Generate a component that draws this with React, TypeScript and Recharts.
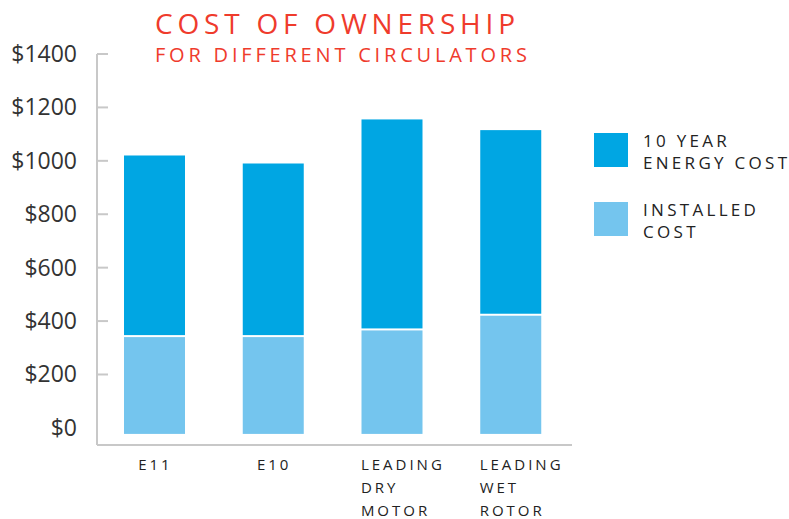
import React from 'react';
import { BarChart, Bar, XAxis, YAxis, Legend } from 'recharts';

const categories = ['E11', 'E10', 'LEADING DRY MOTOR', 'LEADING WET ROTOR'];
const installedCost = [340, 340, 365, 420];
const energyCost = [680, 650, 790, 695];
const yTicks = [0, 200, 400, 600, 800, 1000, 1200, 1400];
const legendOrder = ['energy', 'installed'];

const DARK = '#00a6e3';
const LIGHT = '#74c5ee';
const AXIS = '#c8c8c8';
const RED = '#ef3b2c';
const FONT = '"Open Sans", sans-serif';

const data = categories.map((name, i) => ({
  name,
  installed: installedCost[i],
  energy: energyCost[i],
}));

const YTick = (props: any) => {
  const { x, y, payload } = props;
  return (
    <g>
      {payload.value !== 0 && (
        <line x1={x} x2={x + 11} y1={y} y2={y} stroke={AXIS} strokeWidth={2} />
      )}
      <text x={x - 20} y={y + 8} textAnchor="end" fontFamily={FONT} fontSize={23} fill="#333">
        ${payload.value}
      </text>
    </g>
  );
};

const XTick = (props: any) => {
  const { x, y, payload } = props;
  const lines = String(payload.value).split(' ');
  const multi = lines.length > 1;
  const tx = multi ? x - 31 : x + 1;
  return (
    <text
      x={tx}
      y={y}
      textAnchor={multi ? 'start' : 'middle'}
      fontFamily={FONT}
      fontSize={15}
      letterSpacing={3}
      fill="#222"
    >
      {lines.map((l, i) => (
        <tspan key={l} x={tx} dy={i === 0 ? 25 : 23}>
          {l}
        </tspan>
      ))}
    </text>
  );
};

// installed segment runs a little below the zero line, as in the source graphic
const InstalledShape = (props: any) => {
  const { x, y, width, height, fill } = props;
  return <rect x={x} y={y} width={width} height={height + 6} fill={fill} />;
};

// white gap between the two stacked segments
const EnergyShape = (props: any) => {
  const { x, y, width, height, fill } = props;
  return <rect x={x} y={y} width={width} height={Math.max(height - 2, 0)} fill={fill} />;
};

const LegendContent = (props: any) => {
  const items = [...(props.payload || [])].sort(
    (a: any, b: any) => legendOrder.indexOf(a.dataKey) - legendOrder.indexOf(b.dataKey)
  );
  return (
    <div style={{ fontFamily: FONT }}>
      {items.map((it: any) => (
        <div key={it.value} style={{ position: 'relative', height: 69 }}>
          <div style={{ position: 'absolute', left: 0, top: 0, width: 34, height: 34, background: it.color }} />
          <div
            style={{
              position: 'absolute',
              left: 49,
              top: -3,
              fontSize: 17,
              lineHeight: '21.5px',
              letterSpacing: 3.3,
              color: '#222',
              whiteSpace: 'nowrap',
            }}
          >
            {String(it.value).split('\n').map((l) => (
              <div key={l}>{l}</div>
            ))}
          </div>
        </div>
      ))}
    </div>
  );
};

export default function App() {
  return (
    <div style={{ position: 'absolute', left: 0, top: 0, width: 789, height: 519, background: '#fff', overflow: 'hidden' }}>
      <div
        style={{
          position: 'absolute',
          left: 155,
          top: 8,
          fontFamily: FONT,
          color: RED,
          fontSize: 28,
          letterSpacing: 4.8,
          whiteSpace: 'nowrap',
          lineHeight: '30px',
        }}
      >
        COST OF OWNERSHIP
      </div>
      <div
        style={{
          position: 'absolute',
          left: 155,
          top: 44,
          fontFamily: FONT,
          color: RED,
          fontSize: 20,
          letterSpacing: 3.8,
          whiteSpace: 'nowrap',
          lineHeight: '22px',
        }}
      >
        FOR DIFFERENT CIRCULATORS
      </div>
      <BarChart
        width={789}
        height={519}
        data={data}
        margin={{ top: 54, right: 217, bottom: 0, left: 0 }}
        barSize={61}
      >
        <XAxis
          dataKey="name"
          height={74}
          padding={{ left: -2, right: 2 }}
          axisLine={{ stroke: AXIS, strokeWidth: 2 }}
          tickLine={false}
          tickSize={0}
          tickMargin={0}
          tick={<XTick />}
          interval={0}
        />
        <YAxis
          width={97}
          domain={[-64, 1400]}
          ticks={yTicks}
          allowDataOverflow
          axisLine={{ stroke: AXIS, strokeWidth: 2 }}
          tickLine={false}
          tickSize={0}
          tickMargin={0}
          tick={<YTick />}
          interval={0}
        />
        <Legend
          layout="horizontal"
          verticalAlign="middle"
          align="center"
          content={<LegendContent />}
          wrapperStyle={{ position: 'absolute', left: 594, top: 133, width: 195, height: 140 }}
        />
        <Bar
          dataKey="installed"
          name={'INSTALLED\nCOST'}
          stackId="a"
          fill={LIGHT}
          shape={<InstalledShape />}
          isAnimationActive={false}
        />
        <Bar
          dataKey="energy"
          name={'10 YEAR\nENERGY COST'}
          stackId="a"
          fill={DARK}
          shape={<EnergyShape />}
          isAnimationActive={false}
        />
      </BarChart>
    </div>
  );
}
